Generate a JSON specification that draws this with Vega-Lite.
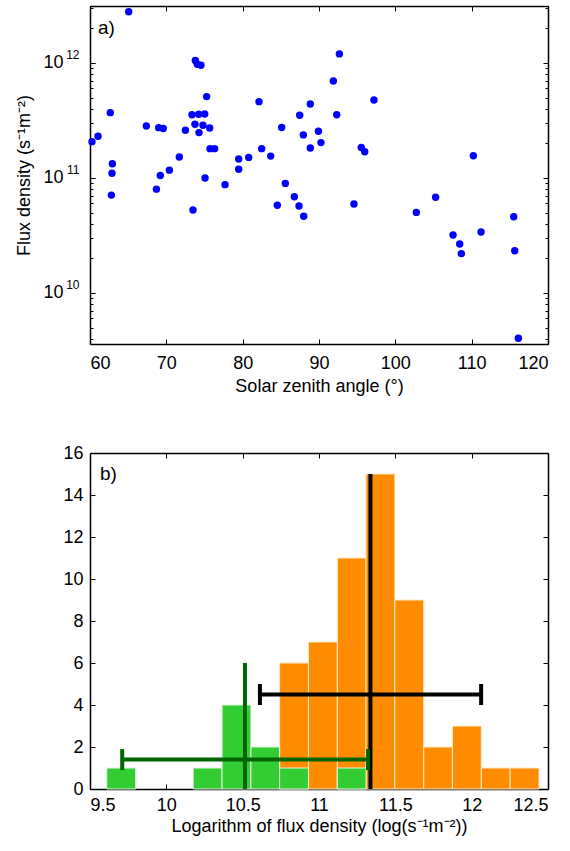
{
  "$schema": "https://vega.github.io/schema/vega-lite/v6.json",
  "padding": {"left": 15, "top": 5, "right": 5, "bottom": 5},
  "background": "white",
  "config": {
    "view": {"stroke": null},
    "font": "Liberation Sans",
    "axis": {
      "domainColor": "black", "domainWidth": 1.5, "tickColor": "black", "tickWidth": 1,
      "grid": false, "labelFont": "Liberation Sans", "labelFontSize": 18, "labelColor": "black",
      "titleFont": "Liberation Sans", "titleFontSize": 18, "titleFontWeight": "normal", "titleColor": "black"
    }
  },
  "datasets": {
    "pts": [
      {"sza": 60.26, "flux": 2.07e11}, {"sza": 61.05, "flux": 2.31e11}, {"sza": 62.66, "flux": 3.7e11},
      {"sza": 62.93, "flux": 1.33e11}, {"sza": 62.88, "flux": 1.1e11}, {"sza": 62.8, "flux": 7.1e10},
      {"sza": 65.07, "flux": 2.79e12}, {"sza": 67.38, "flux": 2.83e11}, {"sza": 68.99, "flux": 2.74e11},
      {"sza": 69.6, "flux": 2.69e11}, {"sza": 69.21, "flux": 1.05e11}, {"sza": 68.7, "flux": 8.0e10},
      {"sza": 70.4, "flux": 1.17e11}, {"sza": 71.7, "flux": 1.52e11}, {"sza": 72.5, "flux": 2.6e11},
      {"sza": 73.36, "flux": 3.55e11}, {"sza": 74.24, "flux": 3.58e11}, {"sza": 75.03, "flux": 3.6e11},
      {"sza": 73.75, "flux": 2.93e11}, {"sza": 74.8, "flux": 2.87e11}, {"sza": 74.28, "flux": 2.48e11},
      {"sza": 75.68, "flux": 2.72e11}, {"sza": 73.8, "flux": 1.05e12}, {"sza": 74.06, "flux": 9.75e11},
      {"sza": 74.54, "flux": 9.55e11}, {"sza": 75.28, "flux": 5.1e11}, {"sza": 75.72, "flux": 1.8e11},
      {"sza": 76.33, "flux": 1.8e11}, {"sza": 75.07, "flux": 1.0e11}, {"sza": 73.49, "flux": 5.27e10},
      {"sza": 77.69, "flux": 8.75e10}, {"sza": 79.48, "flux": 1.46e11}, {"sza": 79.48, "flux": 1.19e11},
      {"sza": 80.79, "flux": 1.51e11}, {"sza": 82.14, "flux": 4.61e11}, {"sza": 82.49, "flux": 1.8e11},
      {"sza": 83.67, "flux": 1.55e11}, {"sza": 85.11, "flux": 2.75e11}, {"sza": 87.47, "flux": 3.51e11},
      {"sza": 87.95, "flux": 2.37e11}, {"sza": 88.86, "flux": 4.4e11}, {"sza": 88.86, "flux": 1.82e11},
      {"sza": 84.54, "flux": 5.8e10}, {"sza": 85.59, "flux": 8.97e10}, {"sza": 86.77, "flux": 6.87e10},
      {"sza": 87.38, "flux": 5.71e10}, {"sza": 88.0, "flux": 4.65e10}, {"sza": 89.92, "flux": 2.55e11},
      {"sza": 90.26, "flux": 2.03e11}, {"sza": 91.88, "flux": 6.97e11}, {"sza": 92.67, "flux": 1.2e12},
      {"sza": 92.32, "flux": 3.55e11}, {"sza": 97.2, "flux": 4.76e11}, {"sza": 95.54, "flux": 1.84e11},
      {"sza": 95.99, "flux": 1.69e11}, {"sza": 110.22, "flux": 1.56e11}, {"sza": 94.58, "flux": 5.94e10},
      {"sza": 102.75, "flux": 5.02e10}, {"sza": 105.28, "flux": 6.79e10}, {"sza": 107.56, "flux": 3.19e10},
      {"sza": 108.43, "flux": 2.67e10}, {"sza": 108.65, "flux": 2.2e10}, {"sza": 111.23, "flux": 3.39e10},
      {"sza": 115.51, "flux": 4.6e10}, {"sza": 115.64, "flux": 2.33e10}, {"sza": 116.12, "flux": 4.04e9}
    ],
    "hist": [
      {"grp": "all", "x0": 10.742, "x1": 10.931, "count": 6},
      {"grp": "all", "x0": 10.931, "x1": 11.120, "count": 7},
      {"grp": "all", "x0": 11.120, "x1": 11.308, "count": 11},
      {"grp": "all", "x0": 11.308, "x1": 11.497, "count": 15},
      {"grp": "all", "x0": 11.497, "x1": 11.686, "count": 9},
      {"grp": "all", "x0": 11.686, "x1": 11.874, "count": 2},
      {"grp": "all", "x0": 11.874, "x1": 12.063, "count": 3},
      {"grp": "all", "x0": 12.063, "x1": 12.252, "count": 1},
      {"grp": "all", "x0": 12.252, "x1": 12.441, "count": 1},
      {"grp": "low", "x0": 9.610, "x1": 9.799, "count": 1},
      {"grp": "low", "x0": 10.176, "x1": 10.365, "count": 1},
      {"grp": "low", "x0": 10.365, "x1": 10.554, "count": 4},
      {"grp": "low", "x0": 10.554, "x1": 10.742, "count": 2},
      {"grp": "low", "x0": 10.742, "x1": 10.931, "count": 1},
      {"grp": "low", "x0": 11.120, "x1": 11.308, "count": 1}
    ],
    "stats": [
      {"grp": "all", "mean": 11.337, "lo": 10.613, "hi": 12.062, "ey": 4.5, "top": 15},
      {"grp": "low", "mean": 10.515, "lo": 9.711, "hi": 11.321, "ey": 1.4, "top": 6}
    ]
  },
  "vconcat": [
    {
      "width": 458, "height": 338,
      "layer": [
        {
          "data": {"name": "pts"},
          "mark": {"type": "circle", "size": 55, "color": "#0000ff", "opacity": 1},
          "encoding": {
            "x": {"field": "sza", "type": "quantitative",
              "scale": {"domain": [60, 120], "nice": false},
              "axis": {"orient": "bottom", "values": [60, 70, 80, 90, 100, 110, 120], "tickSize": -5, "labelPadding": 15,
                "title": "Solar zenith angle (°)", "titlePadding": 5}},
            "y": {"field": "flux", "type": "quantitative",
              "scale": {"type": "log", "domain": [3.6e9, 3.13e12], "nice": false},
              "axis": {"orient": "left",
                "values": [1e10, 1e11, 1e12],
                "labelExpr": "'10'",
                "tickSize": -5,
                "labelPadding": 32,
                "title": "Flux density (s⁻¹m⁻²)", "titlePadding": 9}}
          }
        },
        {
          "data": {"name": "pts"},
          "mark": {"type": "circle", "opacity": 0},
          "encoding": {
            "x": {"field": "sza", "type": "quantitative", "axis": null},
            "y": {"field": "flux", "type": "quantitative",
              "axis": {"orient": "left", "domain": false, "title": null, "values": [1e10, 1e11, 1e12], "tickSize": -5,
                "labelExpr": "datum.value == 1e12 ? '12' : datum.value == 1e11 ? '11' : '10'",
                "labelFontSize": 12, "labelPadding": 16, "labelOffset": -8}}
          }
        },
        {
          "data": {"name": "pts"},
          "mark": {"type": "circle", "opacity": 0},
          "encoding": {
            "x": {"field": "sza", "type": "quantitative",
              "axis": {"orient": "top", "values": [60, 70, 80, 90, 100, 110, 120], "tickSize": -5, "labels": false, "title": null}},
            "y": {"field": "flux", "type": "quantitative",
              "axis": {"orient": "right", "labels": false, "title": null, "values": [1e10, 1e11, 1e12], "tickSize": -5}}
          }
        },
        {
          "data": {"name": "pts"},
          "mark": {"type": "circle", "opacity": 0},
          "encoding": {
            "x": {"field": "sza", "type": "quantitative", "axis": null},
            "y": {"field": "flux", "type": "quantitative",
              "axis": {"orient": "left", "labels": false, "title": null, "domain": false, "tickSize": -3,
                "values": [4e9, 5e9, 6e9, 7e9, 8e9, 9e9, 2e10, 3e10, 4e10, 5e10, 6e10, 7e10, 8e10, 9e10, 2e11, 3e11, 4e11, 5e11, 6e11, 7e11, 8e11, 9e11, 2e12, 3e12]}}
          }
        },
        {
          "data": {"name": "pts"},
          "mark": {"type": "circle", "opacity": 0},
          "encoding": {
            "x": {"field": "sza", "type": "quantitative", "axis": null},
            "y": {"field": "flux", "type": "quantitative",
              "axis": {"orient": "right", "labels": false, "title": null, "domain": false, "tickSize": -3,
                "values": [4e9, 5e9, 6e9, 7e9, 8e9, 9e9, 2e10, 3e10, 4e10, 5e10, 6e10, 7e10, 8e10, 9e10, 2e11, 3e11, 4e11, 5e11, 6e11, 7e11, 8e11, 9e11, 2e12, 3e12]}}
          }
        },
        {
          "data": {"values": [{"lab": "a)"}]},
          "mark": {"type": "text", "align": "left", "baseline": "middle", "fontSize": 19, "font": "Liberation Sans", "color": "black"},
          "encoding": {
            "x": {"datum": 61.05, "type": "quantitative", "axis": null},
            "y": {"datum": 2.0e12, "type": "quantitative", "axis": null},
            "text": {"field": "lab", "type": "nominal"}
          }
        }
      ],
      "resolve": {"axis": {"x": "independent", "y": "independent"}}
    },
    {
      "width": 458, "height": 336,
      "layer": [
        {
          "data": {"name": "hist"},
          "transform": [{"filter": "datum.grp == 'all'"}],
          "mark": {"type": "bar", "color": "#ff8c00", "stroke": "#ffe8cc", "strokeWidth": 1},
          "encoding": {
            "x": {"field": "x0", "type": "quantitative",
              "scale": {"domain": [9.5, 12.5], "nice": false},
              "axis": {"orient": "bottom", "values": [9.5, 10, 10.5, 11, 11.5, 12, 12.5], "format": "~g", "tickSize": -5, "labelPadding": 12,
                "title": "Logarithm of flux density (log(s⁻¹m⁻²))", "titlePadding": 3}},
            "x2": {"field": "x1"},
            "y": {"field": "count", "type": "quantitative",
              "scale": {"domain": [0, 16], "nice": false},
              "axis": {"orient": "left", "values": [0, 2, 4, 6, 8, 10, 12, 14, 16], "tickSize": -5, "labelPadding": 12,
                "title": null}},
            "y2": {"datum": 0}
          }
        },
        {
          "data": {"name": "hist"},
          "transform": [{"filter": "datum.grp == 'low'"}],
          "mark": {"type": "bar", "color": "#33cc33", "stroke": "#e0f5e0", "strokeWidth": 1},
          "encoding": {
            "x": {"field": "x0", "type": "quantitative", "axis": {"orient": "top", "values": [9.5, 10, 10.5, 11, 11.5, 12, 12.5], "tickSize": -5, "labels": false, "title": null}},
            "x2": {"field": "x1"},
            "y": {"field": "count", "type": "quantitative", "axis": {"orient": "right", "values": [0, 2, 4, 6, 8, 10, 12, 14, 16], "tickSize": -5, "labels": false, "title": null}},
            "y2": {"datum": 0}
          }
        },
        {
          "data": {"name": "stats"},
          "mark": {"type": "rule", "strokeWidth": 4},
          "encoding": {
            "x": {"field": "mean", "type": "quantitative", "axis": null},
            "y": {"field": "top", "type": "quantitative", "axis": null},
            "y2": {"datum": 0},
            "color": {"field": "grp", "type": "nominal", "scale": {"domain": ["all", "low"], "range": ["#000000", "#006400"]}, "legend": null}
          }
        },
        {
          "data": {"name": "stats"},
          "mark": {"type": "rule", "strokeWidth": 4},
          "encoding": {
            "x": {"field": "lo", "type": "quantitative", "axis": null},
            "x2": {"field": "hi"},
            "y": {"field": "ey", "type": "quantitative", "axis": null},
            "color": {"field": "grp", "type": "nominal", "legend": null}
          }
        },
        {
          "data": {"name": "stats"},
          "mark": {"type": "tick", "orient": "vertical", "size": 21, "thickness": 4, "opacity": 1},
          "encoding": {
            "x": {"field": "lo", "type": "quantitative", "axis": null},
            "y": {"field": "ey", "type": "quantitative", "axis": null},
            "color": {"field": "grp", "type": "nominal", "legend": null}
          }
        },
        {
          "data": {"name": "stats"},
          "mark": {"type": "tick", "orient": "vertical", "size": 21, "thickness": 4, "opacity": 1},
          "encoding": {
            "x": {"field": "hi", "type": "quantitative", "axis": null},
            "y": {"field": "ey", "type": "quantitative", "axis": null},
            "color": {"field": "grp", "type": "nominal", "legend": null}
          }
        },
        {
          "data": {"values": [{"lab": "b)"}]},
          "mark": {"type": "text", "align": "left", "baseline": "middle", "fontSize": 19, "font": "Liberation Sans", "color": "black"},
          "encoding": {
            "x": {"datum": 9.565, "type": "quantitative", "axis": null},
            "y": {"datum": 15.0, "type": "quantitative", "axis": null},
            "text": {"field": "lab", "type": "nominal"}
          }
        }
      ],
      "resolve": {"axis": {"x": "independent", "y": "independent"}}
    }
  ],
  "spacing": 109,
  "bounds": "flush"
}
